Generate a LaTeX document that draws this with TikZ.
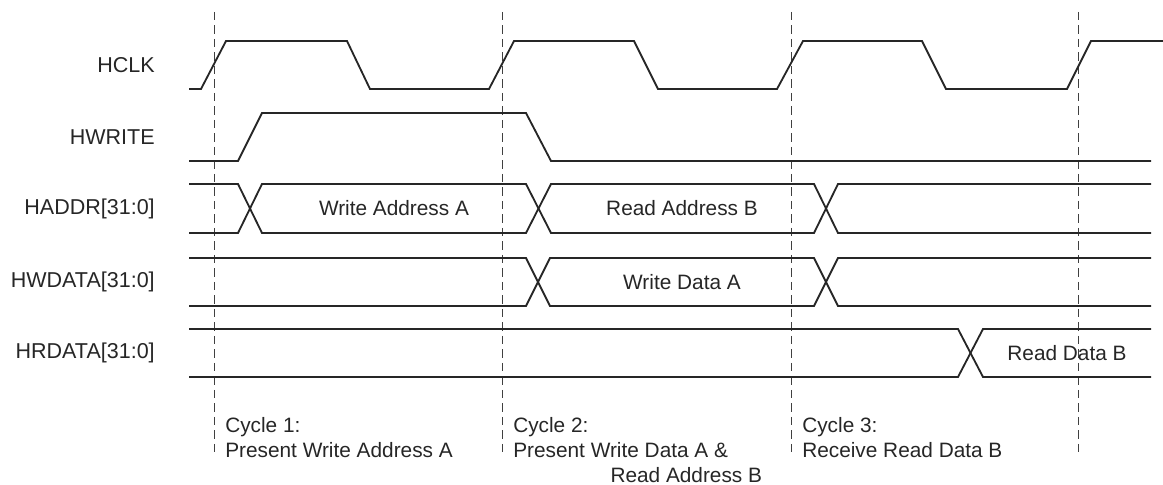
\documentclass[tikz,border=0pt]{standalone}
\usepackage{fontspec}
\setmainfont{Liberation Sans}
\usetikzlibrary{positioning}

\begin{document}
\begin{tikzpicture}[
  x=0.025cm, y=-0.025cm,
  font=\fontsize{14.8}{17.8}\selectfont,
  wave/.style={draw=black!85, line width=1.3pt, line join=miter},
  cycleMark/.style={draw=black!75, line width=0.6pt, dash pattern=on 6pt off 3.6pt},
  sigName/.style={anchor=east, inner sep=0pt, text=black!85, font=\fontsize{15.3}{18}\selectfont},
  busText/.style={inner sep=0pt, text=black!85},
  cycleText/.style={anchor=north west, inner sep=0pt, align=left, text=black!85}
]
\useasboundingbox (0,0) rectangle (1163,485);

\node[sigName] (hclkName) at (155,65) {HCLK};
\node[sigName] (hwriteName) at (155,137) {HWRITE};
\node[sigName] (haddrName) at (155,208.5) {HADDR[31:0]};
\node[sigName] (hwdataName) at (155,282) {HWDATA[31:0]};
\node[sigName] (hrdataName) at (155,353) {HRDATA[31:0]};

\draw[cycleMark] (214,12) -- (214,452);
\draw[cycleMark] (502,12) -- (502,452);
\draw[cycleMark] (791,12) -- (791,452);
\draw[cycleMark] (1078,12) -- (1078,452);

\draw[wave] (189,89) -- (201,89) -- (226,41) -- (347,41) -- (370,89) -- (489,89)
  -- (514,41) -- (634,41) -- (658,89) -- (777,89) -- (803,41) -- (922,41)
  -- (946,89) -- (1067,89) -- (1091,41) -- (1163,41);

\draw[wave] (189,161) -- (238,161) -- (262,113) -- (526,113) -- (551,161) -- (1151,161);

\draw[wave] (189,184) -- (238,184) -- (262,233) -- (526,233) -- (551,184) -- (814,184)
  -- (838,233) -- (1151,233);
\draw[wave] (189,233) -- (238,233) -- (262,184) -- (526,184) -- (551,233) -- (814,233)
  -- (838,184) -- (1151,184);

\draw[wave] (189,258) -- (526,258) -- (550,306) -- (814,306) -- (838,258) -- (1151,258);
\draw[wave] (189,306) -- (526,306) -- (550,258) -- (814,258) -- (838,306) -- (1151,306);

\draw[wave] (189,329) -- (958,329) -- (983,377) -- (1151,377);
\draw[wave] (189,377) -- (958,377) -- (983,329) -- (1151,329);

\node[busText] (writeAddrA) at (394,208.5) {Write Address A};
\node[busText] (readAddrB) at (682,208.5) {Read Address B};
\node[busText] (writeDataA) at (682,282) {Write Data A};
\node[busText] (readDataB) at (1067,353) {Read Data B};

\node[cycleText] (cycleOne) at (225,417) {Cycle 1:\\Present Write Address A};
\node[cycleText] (cycleTwo) at (513,417) {Cycle 2:\\Present Write Data A \&\\\hspace*{2.43cm}Read Address B};
\node[cycleText] (cycleThree) at (802,417) {Cycle 3:\\Receive Read Data B};
\end{tikzpicture}
\end{document}
